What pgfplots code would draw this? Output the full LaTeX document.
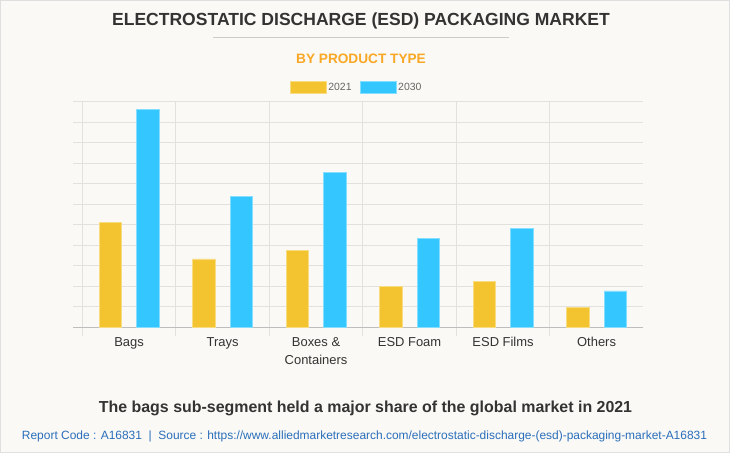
\documentclass[border=0pt]{standalone}
\usepackage{pgfplots}
\pgfplotsset{compat=1.18}
\usepackage{fontspec}
\setmainfont{Liberation Sans}
\definecolor{bg}{HTML}{FAF9F5}
\definecolor{yel}{HTML}{F4C430}
\definecolor{blu}{HTML}{33C6FF}
\definecolor{gridc}{HTML}{E3E1DC}
\definecolor{axisc}{HTML}{BDBDBD}
\definecolor{titlec}{HTML}{333333}
\definecolor{orng}{HTML}{F9A825}
\definecolor{linkc}{HTML}{2A6EBB}
\begin{document}
\begin{tikzpicture}[x=1bp,y=1bp]
\fill[bg] (0,0) rectangle (730,453);
\draw[gray!25, line width=1bp] (0.5,0.5) rectangle (729.5,452.5);
\useasboundingbox (0,0) rectangle (730,453);
\node[font=\bfseries\fontsize{17.6}{20}\selectfont, text=titlec] at (361,432) {ELECTROSTATIC DISCHARGE (ESD) PACKAGING MARKET};
\draw[gray!40, line width=0.8bp] (213,415.5) -- (509,415.5);
\node[font=\bfseries\fontsize{13.7}{16}\selectfont, text=orng] at (361,394) {BY PRODUCT TYPE};
\begin{axis}[
  at={(73.3bp,125.7bp)}, anchor=south west,
  scale only axis, width=570bp, height=225.6bp,
  xmin=-0.596, xmax=5.5, ymin=0, ymax=11,
  axis x line=bottom, axis y line=left,
  y axis line style={draw=none},
  x axis line style={draw=axisc, line width=1bp, -},
  ytick={0,1,...,11}, yticklabels={},
  ymajorgrids, major grid style={draw=gridc, line width=0.8bp},
  xtick={0,1,2,3,4,5},
  xticklabels={Bags,Trays,{Boxes \&\\Containers},ESD Foam,ESD Films,Others},
  typeset ticklabels with strut,
  xticklabel style={align=center, font=\fontsize{13}{18}\selectfont, text=titlec, yshift=-3bp},
  minor xtick={-0.5,0.5,1.5,2.5,3.5,4.5},
  xminorgrids, minor grid style={draw=gridc, line width=0.8bp},
  major tick length=0pt, minor tick length=9bp, tick align=outside,
  minor tick style={draw=gridc, line width=0.8bp},
  legend style={at={(0.497,1.063)}, anchor=center, draw=none, fill=none,
    font=\fontsize{10.5}{12}\selectfont, text=gray!80!black,
    /tikz/every even column/.style={column sep=6bp}},
  legend columns=2,
  legend image code/.code={\fill[#1] (0bp,-6bp) rectangle (36bp,6bp);},
]
\addplot[ybar, fill=yel, draw=yel!60!white, line width=0.6bp, bar width=22.5bp, bar shift=-18.75bp]
  coordinates {(0,5.12) (1,3.33) (2,3.75) (3,2.01) (4,2.22) (5,0.96)};
\addplot[ybar, fill=blu, draw=blu!60!white, line width=0.6bp, bar width=22.5bp, bar shift=18.75bp]
  coordinates {(0,10.61) (1,6.40) (2,7.56) (3,4.34) (4,4.84) (5,1.77)};
\legend{2021,2030}
\end{axis}
\node[font=\bfseries\fontsize{16}{18}\selectfont, text=titlec] at (365.5,45) {The bags sub-segment held a major share of the global market in 2021};
\node[font=\fontsize{12}{14}\selectfont, text=linkc] at (364.5,17) {Report Code : A16831 \ | \ Source : https://www.alliedmarketresearch.com/electrostatic-discharge-(esd)-packaging-market-A16831};
\end{tikzpicture}
\end{document}
